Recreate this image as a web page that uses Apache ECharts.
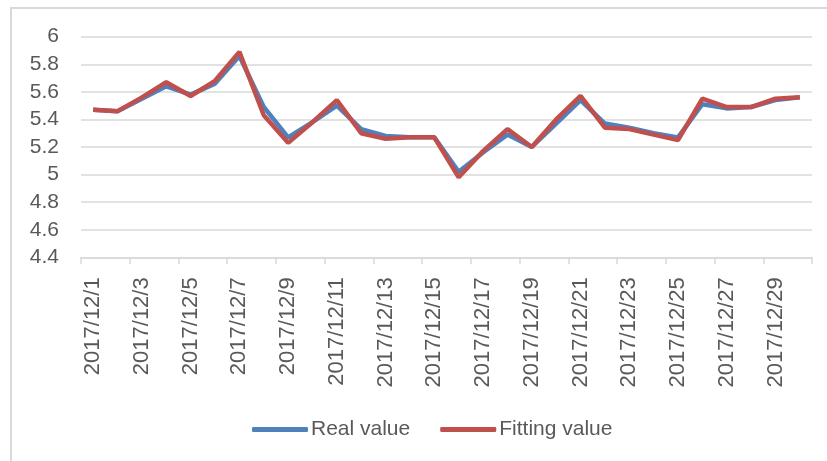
<!DOCTYPE html>
<html>
<head>
<meta charset="utf-8">
<script src="https://cdn.jsdelivr.net/npm/echarts@6/dist/echarts.min.js"></script>
<style>html,body{margin:0;padding:0;background:#fff}#c{width:827px;height:461px}</style>
</head>
<body>
<div id="c"></div>
<script>
const categories = ['2017/12/1','2017/12/2','2017/12/3','2017/12/4','2017/12/5','2017/12/6','2017/12/7','2017/12/8','2017/12/9','2017/12/10',
'2017/12/11','2017/12/12','2017/12/13','2017/12/14','2017/12/15','2017/12/16','2017/12/17','2017/12/18','2017/12/19','2017/12/20',
'2017/12/21','2017/12/22','2017/12/23','2017/12/24','2017/12/25','2017/12/26','2017/12/27','2017/12/28','2017/12/29','2017/12/30'];
const realValue = [5.47,5.46,5.55,5.64,5.58,5.66,5.86,5.49,5.27,5.38,
5.50,5.33,5.28,5.27,5.27,5.02,5.16,5.29,5.20,5.37,
5.54,5.37,5.34,5.30,5.27,5.51,5.48,5.49,5.54,5.56];
const fittingValue = [5.47,5.46,5.56,5.67,5.57,5.68,5.89,5.43,5.23,5.38,
5.54,5.30,5.26,5.27,5.27,4.98,5.17,5.33,5.20,5.40,
5.57,5.34,5.33,5.29,5.25,5.55,5.49,5.49,5.55,5.56];
const seriesNames = ['Real value','Fitting value'];
const yTicks = {min:4.4, max:6, interval:0.2};

const chart = echarts.init(document.getElementById('c'), null, {renderer:'canvas'});
const font = 'Liberation Sans, Arial, sans-serif';
chart.setOption({
  animation:false,
  graphic:[{type:'rect', shape:{x:11,y:8,width:900,height:600}, style:{fill:'none', stroke:'#d9d9d9', lineWidth:2}, silent:true}],
  grid:{left:81, right:15, top:36.7, bottom:203.7, containLabel:false},
  legend:{
    data:seriesNames, bottom:16, left:247, icon:'roundRect', itemWidth:56, itemHeight:5, itemGap:30,
    textStyle:{fontFamily:font, fontSize:21, color:'#595959', padding:[0,0,0,-2]}
  },
  xAxis:{
    type:'category', data:categories, boundaryGap:true,
    axisLine:{lineStyle:{color:'#d9d9d9', width:1.5}},
    axisTick:{show:true, interval:1, length:7, lineStyle:{color:'#d9d9d9', width:1.5}},
    axisLabel:{interval:1, rotate:90, margin:20, fontFamily:font, fontSize:22, color:'#595959'}
  },
  yAxis:{
    type:'value', min:yTicks.min, max:yTicks.max, interval:yTicks.interval,
    axisLine:{show:false}, axisTick:{show:false},
    splitLine:{lineStyle:{color:'#d9d9d9', width:1.5}},
    axisLabel:{margin:22, fontFamily:font, fontSize:21, color:'#595959', formatter:v=>String(+v.toFixed(1))}
  },
  series:[
    {name:seriesNames[0], type:'line', data:realValue, symbol:'none', lineStyle:{color:'#4F81BD', width:4.5}, itemStyle:{color:'#4F81BD'}, z:2},
    {name:seriesNames[1], type:'line', data:fittingValue, symbol:'none', lineStyle:{color:'#C0504D', width:4.5}, itemStyle:{color:'#C0504D'}, z:3}
  ]
});
</script>
</body>
</html>
